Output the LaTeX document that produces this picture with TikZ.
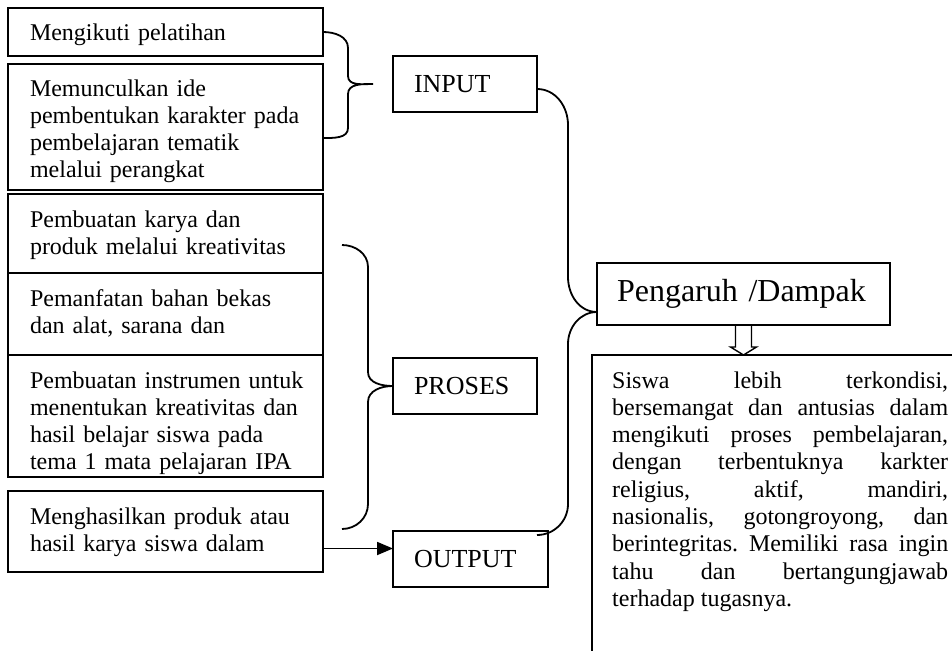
\documentclass[tikz,border=0pt]{standalone}
\usepackage{fontspec}
\setmainfont{Liberation Serif}
\usetikzlibrary{arrows.meta,positioning,calc}
\hyphenpenalty=10000
\frenchspacing

\begin{document}
\begin{tikzpicture}[x=1pt, y=-1pt,
  item/.style={draw, line width=2.2pt, anchor=north west, outer sep=0pt,
               text width=282pt, inner xsep=16.5pt, inner ysep=0pt,
               text height=33pt, align=left, font=\fontsize{24}{27}\selectfont,
               execute at begin node={\leftskip=5.5pt}},
  stage/.style={draw, line width=1.8pt, anchor=north west, outer sep=0pt,
                minimum height=56pt, inner xsep=21pt, align=left,
                font=\fontsize{26}{30}\selectfont},
  link/.style={line width=1.8pt},
  arr/.style={-{Triangle[length=16pt, width=13pt]}, line width=1.8pt}
]
\useasboundingbox (0,0) rectangle (952,650);
\clip (0,0) rectangle (952,650);

% left column
\node[item, text depth=15pt] (b1) at (8,8) {Mengikuti pelatihan};
\node[item, text depth=93pt] (b2) at (8,64)
  {Memunculkan ide\\ pembentukan karakter pada\\ pembelajaran tematik\\ melalui perangkat};
\node[item, text depth=46pt] (b3) at (8,194)
  {Pembuatan karya dan\\ produk melalui kreativitas};
\node[item, text depth=49pt] (b4) at (8,273)
  {Pemanfatan bahan bekas\\ dan alat, sarana dan};
\node[item, text depth=89pt] (b5) at (8,355)
  {Pembuatan instrumen untuk\\ menentukan kreativitas dan\\ hasil belajar siswa pada\\ tema 1 mata pelajaran IPA};
\node[item, text depth=48pt] (b6) at (8,491)
  {Menghasilkan produk atau\\ hasil karya siswa dalam};

% stages
\node[stage, text width=102pt] (input) at (393,56) {INPUT};
\node[stage, text width=102pt] (proses) at (393,358) {PROSES};
\node[stage, text width=113pt] (output) at (393,531) {OUTPUT};
\node[draw, line width=1.8pt, anchor=north west, outer sep=0pt,
      minimum height=62pt, text width=253pt, inner xsep=20pt, align=left,
      font=\fontsize{32}{36}\selectfont] (pengaruh) at (597,263) {Pengaruh /Dampak};

% result
\draw[line width=1.8pt] (592,670) |- (970,355);
\node[anchor=base west, text width=336pt, inner sep=0pt, align=justify,
      font=\fontsize{24}{27.3}\selectfont] (dampak) at (612,388)
  {\tolerance=10000
   Siswa lebih terkondisi,\linebreak
   bersemangat dan antusias dalam\linebreak
   mengikuti proses pembelajaran,\linebreak
   dengan terbentuknya karkter\linebreak
   religius, aktif, mandiri,\linebreak
   nasionalis, gotongroyong, dan\linebreak
   berintegritas. Memiliki rasa ingin\linebreak
   tahu dan bertangungjawab\linebreak
   terhadap tugasnya.};

% braces
\coordinate (itip) at ([xshift=-20pt]input.west);
\draw[link] (b1.east) to[out=0,in=90] ++(25,16) -- ++(0,28)
  to[out=-90,in=180] (itip) to[out=180,in=90] ++(-25,10) -- ++(0,34)
  to[out=-90,in=0] ([yshift=-11pt]b2.east);
\coordinate (ptop) at (342,245);
\coordinate (pbot) at (342,529);
\draw[link] (ptop) to[out=0,in=90] ++(26,22) -- ++(0,105)
  to[out=-90,in=180] (proses.west) to[out=180,in=90] ++(-25,16) -- ++(0,102)
  to[out=-90,in=0] (pbot);

% connectors
\coordinate (meet) at ([yshift=-18pt]pengaruh.west);
\coordinate (oend) at ([xshift=-11pt,yshift=-4pt]output.north east);
\draw[link] ([yshift=-5pt]input.east) to[out=0,in=90] ++(31,36) -- ++(0,152)
  to[out=-90,in=180] (meet);
\draw[link] (meet) to[out=180,in=90] ++(-29,32) -- ++(0,160)
  to[out=-90,in=0] (oend);
\coordinate (aout) at ([yshift=-17pt]b6.east);
\draw[arr] (aout) -- (aout -| output.west);

% hollow arrow
\draw[line width=1.4pt] ([xshift=-8pt]pengaruh.south) -- ++(0,22) -- ++(-5,0)
  -- ++(13,8) -- ++(13,-8) -- ++(-5,0) -- ++(0,-22);
\end{tikzpicture}
\end{document}
